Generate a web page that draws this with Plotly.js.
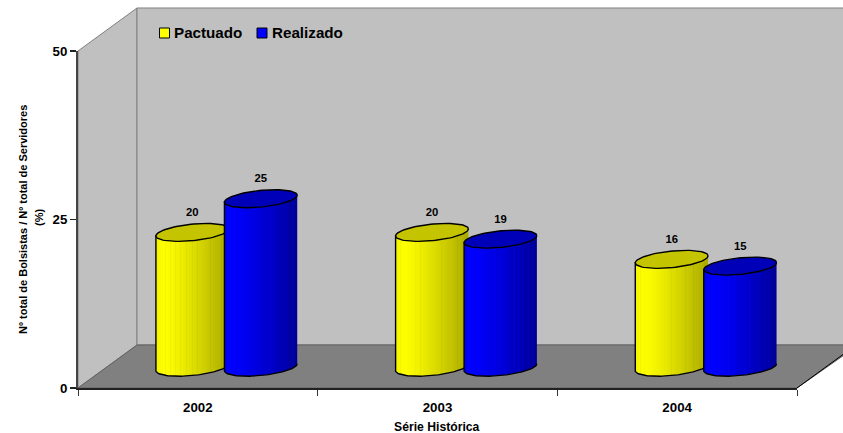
<!DOCTYPE html>
<html><head><meta charset="utf-8">
<script src="https://cdn.plot.ly/plotly-3.0.1.min.js"></script>
<style>html,body{margin:0;padding:0;background:#fff}#c{width:843px;height:433px}</style></head>
<body><div id="c"></div>
<script>
const categories = ['2002','2003','2004'];
const pactuado = [20,20,16];
const realizado = [25,19,15];
const yTicks = [0,25,50];
const W=843,H=433,L=78,R=797,T=51,B=388;
const pxX=(R-L)/3, pxY=(B-T)/50;
const dx=59, dy=43;            // depth of the 3-D box, px
const px=v=>(v-L)/(R-L), py=v=>(B-v)/(B-T);
const stripes=[.07,.13,.2,.27,.34,.42,.5,.57,.63,.69,.75,.8,.85,.9,.95];
function shade(mk,low,delta){
  const f=t=>t<0.1?0.95+0.5*t:1-(1-low)*Math.pow((t-0.1)/0.9,1.25);
  const c=b=>mk(Math.max(0,Math.min(1,b)));
  const out=[[0,c(f(0))]];
  stripes.forEach(s=>{
    out.push([s-0.004,c(f(s-0.004))],[s-0.003,c(f(s)+delta)],[s+0.003,c(f(s)+delta)],[s+0.004,c(f(s+0.004))]);
  });
  out.push([1,c(f(1))]);
  return out;
}
const yel=b=>{const v=Math.round(255*b);return `rgb(${v},${v},0)`;};
const blu=b=>`rgb(0,0,${Math.round(255*b)})`;
const yellow={side:shade(yel,0.66,-0.03),top:'#c4c400',off:-5.5};
const blue={side:shade(blu,0.58,0.09),top:'#0000b8',off:63};
function ell(cx,cy,from,to,n){const o=[];for(let i=0;i<=n;i++){const t=from+(to-from)*i/n;
  o.push([cx+36.4*Math.cos(t)/pxX, cy-(-3.5*Math.cos(t)+8.3*Math.sin(t))/pxY]);}return o;}
const baseV=(B-367.2)/pxY;
const traces=[];
function cyl(catIdx,val,s){
  const cx=catIdx+1+s.off/pxX, top=baseV+val;
  const bottom=ell(cx,baseV,0,Math.PI,60);
  const body=[...bottom,[cx-36.4/pxX,top-3.5/pxY],[cx+36.4/pxX,top+3.5/pxY]];
  traces.push({x:body.map(p=>p[0]),y:body.map(p=>p[1]),mode:'lines',fill:'toself',
    fillgradient:{type:'horizontal',colorscale:s.side},line:{color:'#000',width:1.4},hoverinfo:'skip',showlegend:false});
  const e=ell(cx,top,0,2*Math.PI,90);
  traces.push({x:e.map(p=>p[0]),y:e.map(p=>p[1]),mode:'lines',fill:'toself',fillcolor:s.top,line:{color:'#000',width:1.4},hoverinfo:'skip',showlegend:false});
}
categories.forEach((c,i)=>{cyl(i,pactuado[i],yellow);cyl(i,realizado[i],blue);});
const lblX=[],lblY=[],lblT=[];
categories.forEach((c,i)=>{
  [[pactuado[i],yellow],[realizado[i],blue]].forEach(([v,s])=>{lblX.push(i+1+s.off/pxX);lblY.push(baseV+v);lblT.push(String(v));});
});
traces.push({x:lblX,y:lblY.map(v=>v+2.85),text:lblT,mode:'text',textposition:'middle center',
  textfont:{family:'Liberation Sans',size:11.3,color:'#000',weight:700},hoverinfo:'skip',showlegend:false});
const poly=(pts,fill,line,w)=>({type:'path',xref:'paper',yref:'paper',layer:'below',
  path:'M'+pts.map(p=>px(p[0]).toFixed(5)+','+py(p[1]).toFixed(5)).join('L')+'Z',fillcolor:fill,line:{color:line,width:w}});
const endY=B-(W+2-R)*dy/dx;
const shapes=[
  poly([[L,T],[L+dx,T-dy],[L+dx,B-dy],[L,B]],'#c0c0c0','#808080',1),
  poly([[L+dx,T-dy],[W+4,T-dy],[W+4,B-dy],[L+dx,B-dy]],'#c0c0c0','#808080',1),
  poly([[L,B],[L+dx,B-dy],[W+4,B-dy],[W+4,endY],[R,B]],'#808080','#606060',1),
  {type:'line',xref:'paper',yref:'paper',layer:'below',x0:px(R),y0:py(B),x1:px(W+2),y1:py(endY),line:{color:'#000',width:1}},
  {type:'rect',xref:'paper',yref:'paper',x0:px(159.5),x1:px(169.5),y0:py(38),y1:py(28),fillcolor:'#ffff00',line:{color:'#000',width:1}},
  {type:'rect',xref:'paper',yref:'paper',x0:px(257),x1:px(267),y0:py(38),y1:py(28),fillcolor:'#0000ff',line:{color:'#000',width:1}}
];
const ann=(t,x,y,size,extra)=>Object.assign({text:'<b>'+t+'</b>',xref:'paper',yref:'paper',x:px(x),y:py(y),showarrow:false,borderpad:0,
  xanchor:'center',yanchor:'middle',font:{family:'Liberation Sans',size:size,color:'#000'}},extra||{});
Plotly.newPlot('c',traces,{
  width:W,height:H,showlegend:false,paper_bgcolor:'#fff',plot_bgcolor:'rgba(0,0,0,0)',
  margin:{l:L,r:W-R,t:T,b:H-B,pad:0},
  xaxis:{range:[0.5,3.5],tickvals:[1,2,3],ticktext:categories,ticks:'outside',ticklen:6,tickcolor:'rgba(0,0,0,0)',
    minor:{tickvals:[0.5,1.5,2.5,3.5],ticks:'outside',ticklen:6,tickwidth:1,tickcolor:'#333'},
    showgrid:false,zeroline:false,showline:true,linecolor:'#222',linewidth:2,
    tickfont:{family:'Liberation Sans',size:13.3,color:'#000',weight:700},fixedrange:true,automargin:false},
  yaxis:{range:[0,50],tickvals:yTicks,ticks:'outside',ticklen:6,tickwidth:1.5,tickcolor:'#222',showgrid:false,zeroline:false,showline:true,linecolor:'#444',linewidth:2,
    tickfont:{family:'Liberation Sans',size:13.3,color:'#000',weight:700},fixedrange:true,automargin:false},
  shapes:shapes,
  annotations:[
    ann('Pactuado',173,33,15.2,{xanchor:'left'}),
    ann('Realizado',271,33,15.2,{xanchor:'left'}),
    ann('Série Histórica',437,427,12.2),
    ann('Nº total de Bolsistas / Nº total de Servidores',23,220,11,{textangle:-90}),
    ann('(%)',39,218,11,{textangle:-90})
  ]
},{staticPlot:true});
</script></body></html>
